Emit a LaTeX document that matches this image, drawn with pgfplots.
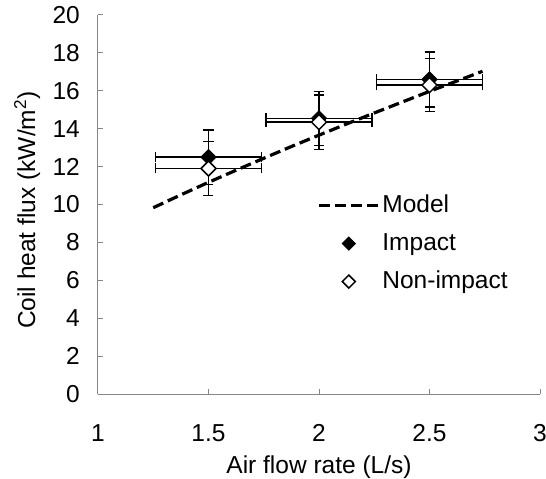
\documentclass[border=0pt]{standalone}
\usepackage{fontspec}
\setmainfont{Liberation Sans}
\usepackage{pgfplots}
\pgfplotsset{compat=1.18}

\definecolor{axgray}{RGB}{134,134,134}

\begin{document}
\begin{tikzpicture}
\begin{axis}[
  scale only axis, width=442pt, height=379pt,
  xmin=1, xmax=3, ymin=0, ymax=20,
  xtick={1,1.5,2,2.5,3}, ytick={0,2,...,20},
  xticklabels={1,1.5,2,2.5,3},
  axis x line*=bottom, axis y line*=left,
  axis line style={axgray, line width=1pt},
  tick style={axgray, line width=1pt},
  tick align=inside, major tick length=5pt,
  font=\fontsize{24.5}{29}\selectfont,
  /pgf/number format/assume math mode=true,
  xticklabel style={inner sep=0pt, anchor=north, yshift=-30pt},
  yticklabel style={inner sep=0pt, anchor=east, xshift=-18pt},
  xlabel={Air flow rate (L/s)},
  ylabel={Coil heat flux (kW/m\textsuperscript{2})},
  every axis x label/.style={at={(axis description cs:0.5,-0.193)}, anchor=center},
  every axis y label/.style={at={(axis description cs:-0.16,0.485)}, rotate=90, anchor=center},
  clip=false,
  legend image code/.code={\draw[mark repeat=2,mark phase=2,#1] plot coordinates {(0pt,0pt) (30pt,0pt) (60pt,0pt)};},
  every legend image post/.style={mark size=4.6pt},
  legend style={draw=none, fill=none, at={(axis cs:1.991,10.56)}, anchor=north west,
    inner sep=0pt, row sep=15pt, column sep=0pt,
    nodes={inner xsep=2pt, inner ysep=0pt, text height=18pt, text depth=5pt}},
  legend cell align=left,
]
\addplot[black, line width=3.2pt, dash pattern=on 11pt off 5pt] coordinates {
  (1.25,9.83) (1.375,10.51) (1.5,11.17) (1.625,11.81) (1.75,12.44)
  (1.875,13.06) (2,13.66) (2.125,14.25) (2.25,14.83) (2.375,15.40)
  (2.5,15.97) (2.625,16.52) (2.74,17.03)};
\addlegendentry{Model}

\addplot[only marks, mark=square*, mark size=5.3pt,
  mark options={rotate=45, draw=black, fill=black, line width=1pt, solid},
  error bars/.cd, x dir=both, x explicit, y dir=both, y explicit,
  error bar style={black, line width=1.3pt, solid},
  error mark options={rotate=90, black, line width=1.3pt, mark size=5pt}]
  table[x=x, y=y, x error=ex, y error=ey] {
  x    y      ex    ey
  1.5  12.50  0.24  1.43
  2.0  14.55  0.24  1.43
  2.5  16.60  0.24  1.45
};
\addlegendentry{Impact}

\addplot[only marks, mark=square*, mark size=5.3pt,
  mark options={rotate=45, draw=black, fill=white, line width=1.5pt, solid},
  error bars/.cd, x dir=both, x explicit, y dir=both, y explicit,
  error bar style={black, line width=1.3pt, solid},
  error mark options={rotate=90, black, line width=1.3pt, mark size=5pt}]
  table[x=x, y=y, x error=ex, y error=ey] {
  x    y      ex    ey
  1.5  11.90  0.24  1.43
  2.0  14.35  0.24  1.43
  2.5  16.30  0.24  1.40
};
\addlegendentry{Non-impact}

\coordinate (sw) at (rel axis cs:0,0);
\end{axis}
\pgfresetboundingbox
\path (sw) ++(-98pt,-85pt) rectangle ++(546pt,479pt);
\end{tikzpicture}
\end{document}
